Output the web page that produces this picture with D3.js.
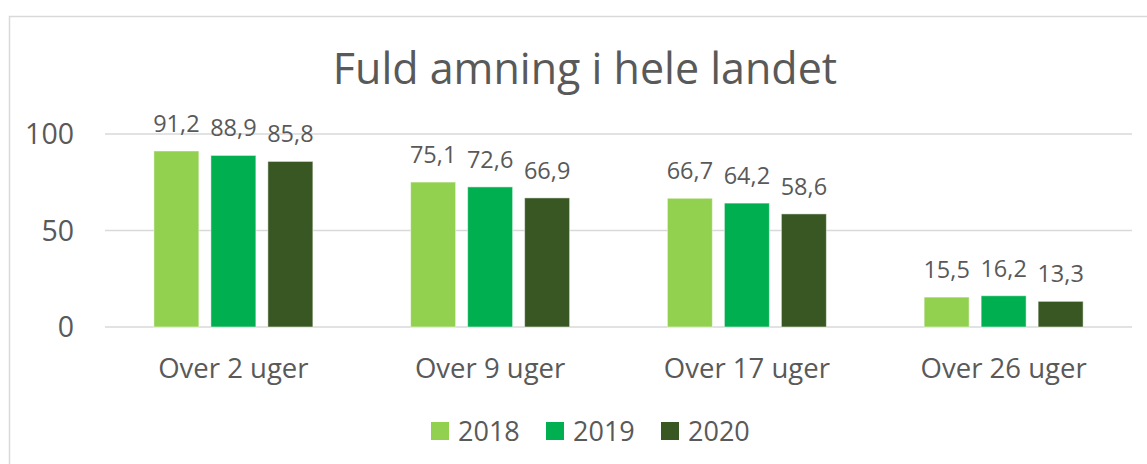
<!DOCTYPE html>
<html>
<head>
<meta charset="utf-8">
<script src="https://cdn.jsdelivr.net/npm/d3@7"></script>
<style>
  body { margin: 0; background: #fff; }
  svg text { font-family: 'Open Sans', sans-serif; fill: #595959; }
</style>
</head>
<body>
<div id="chart"></div>
<script>
const categories = ['Over 2 uger', 'Over 9 uger', 'Over 17 uger', 'Over 26 uger']
const years = ['2018', '2019', '2020']
const values2018 = [91.2, 75.1, 66.7, 15.5]
const values2019 = [88.9, 72.6, 64.2, 16.2]
const values2020 = [85.8, 66.9, 58.6, 13.3]
const yTicks = [0, 50, 100]
const colors = ['#92d050', '#00b050', '#385723']

const series = [values2018, values2019, values2020]
const rows = categories.flatMap((c, i) => years.map((y, j) => ({ cat: c, year: y, value: series[j][i] })))

const W = 1147
const H = 464
const svg = d3.select('#chart').append('svg')
  .attr('width', W)
  .attr('height', H)

// outer chart border
svg.append('rect')
  .attr('x', 9.5).attr('y', 16.5)
  .attr('width', W + 20).attr('height', H + 20)
  .attr('fill', '#fff')
  .attr('stroke', '#d9d9d9')
  .attr('stroke-width', 1.5)

const plot = { left: 105, right: 1132, top: 134, bottom: 327 }

const x = d3.scaleBand()
  .domain(categories)
  .range([plot.left, plot.right])

const xSub = d3.scaleBand()
  .domain(years)
  .range([0, 159])
  .paddingInner(12 / 57)

const y = d3.scaleLinear()
  .domain([0, 100])
  .range([plot.bottom, plot.top])

// gridlines
svg.append('g')
  .selectAll('line')
  .data(yTicks)
  .join('line')
  .attr('x1', plot.left).attr('x2', plot.right)
  .attr('y1', d => y(d)).attr('y2', d => y(d))
  .attr('stroke', '#d9d9d9')
  .attr('stroke-width', 1.5)

// y axis labels
svg.append('g')
  .selectAll('text')
  .data(yTicks)
  .join('text')
  .attr('x', 74)
  .attr('y', d => y(d) + 10)
  .attr('text-anchor', 'end')
  .style('font-size', '28.5px')
  .text(d => d)

const groupOffset = (x.bandwidth() - 159) / 2

// bars
svg.append('g')
  .selectAll('rect')
  .data(rows)
  .join('rect')
  .attr('x', d => x(d.cat) + groupOffset + xSub(d.year))
  .attr('y', d => y(d.value))
  .attr('width', xSub.bandwidth())
  .attr('height', d => y(0) - y(d.value))
  .attr('fill', d => colors[years.indexOf(d.year)])
  .attr('stroke', 'rgba(255,255,255,0.5)')
  .attr('stroke-width', 1)

// data labels
svg.append('g')
  .selectAll('text')
  .data(rows)
  .join('text')
  .attr('x', d => x(d.cat) + groupOffset + xSub(d.year) + xSub.bandwidth() / 2)
  .attr('y', d => y(d.value) - 19)
  .attr('text-anchor', 'middle')
  .style('font-size', '23.5px')
  .text(d => String(d.value).replace('.', ','))

// category labels
svg.append('g')
  .selectAll('text')
  .data(categories)
  .join('text')
  .attr('x', d => x(d) + x.bandwidth() / 2)
  .attr('y', 378)
  .attr('text-anchor', 'middle')
  .style('font-size', '27.5px')
  .text(d => d)

// title
svg.append('text')
  .attr('x', 585)
  .attr('y', 84)
  .attr('text-anchor', 'middle')
  .style('font-size', '43px')
  .text('Fuld amning i hele landet')

// legend
const legendX = [431, 546, 661]
const legend = svg.append('g')
  .selectAll('g')
  .data(years)
  .join('g')
  .attr('transform', (d, i) => `translate(${legendX[i]},422)`)

legend.append('rect')
  .attr('width', 18).attr('height', 18)
  .attr('fill', (d, i) => colors[i])

legend.append('text')
  .attr('x', 27)
  .attr('y', 18.5)
  .style('font-size', '27px')
  .text(d => d)
</script>
</body>
</html>
